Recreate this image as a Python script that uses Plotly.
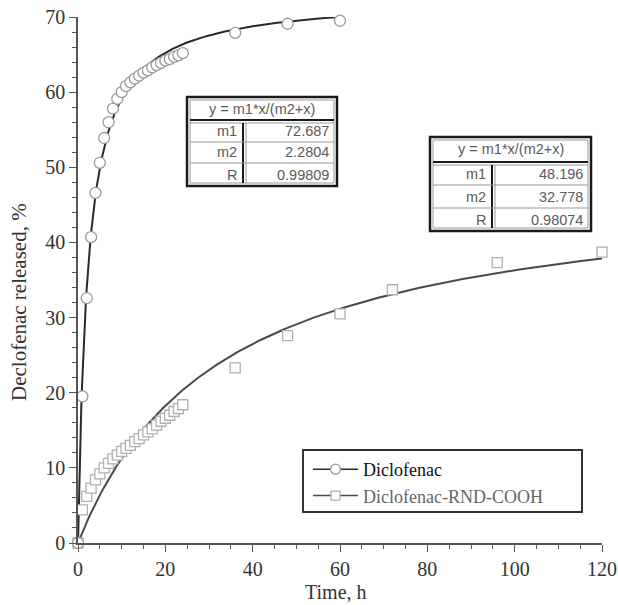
import numpy as np
import plotly.graph_objects as go

# ---- data ----
t_dic = [0, 1, 2, 3, 4, 5, 6, 7, 8, 9, 10, 11, 12, 13, 14, 15, 16, 17, 18, 19, 20, 21, 22, 23, 24, 36, 48, 60]
y_dic = [0, 19.5, 32.6, 40.7, 46.6, 50.6, 53.9, 56.0, 57.8, 59.1, 60.0, 60.8, 61.3, 61.8, 62.2, 62.6,
         62.9, 63.3, 63.6, 63.9, 64.2, 64.4, 64.7, 64.9, 65.2, 67.9, 69.1, 69.5]

t_rnd = [0, 1, 2, 3, 4, 5, 6, 7, 8, 9, 10, 11, 12, 13, 14, 15, 16, 17, 18, 19, 20, 21, 22, 23, 24,
         36, 48, 60, 72, 96, 120]
y_rnd = [0, 4.4, 6.2, 7.3, 8.4, 9.2, 10.0, 10.6, 11.2, 11.7, 12.2, 12.6, 13.0, 13.5, 13.9, 14.4,
         14.8, 15.2, 15.7, 16.2, 16.6, 17.0, 17.5, 17.9, 18.4, 23.3, 27.6, 30.5, 33.7, 37.3, 38.7]

# fit parameters shown in the tables (y = m1*x/(m2+x))
fit_dic = {"m1": 72.687, "m2": 2.2804, "R": 0.99809}
fit_rnd = {"m1": 48.196, "m2": 32.778, "R": 0.98074}
fit_dic_tmax = 60
fit_rnd_tmax = 120

x_ticks = [0, 20, 40, 60, 80, 100, 120]
y_ticks = [0, 10, 20, 30, 40, 50, 60, 70]

# ---- figure geometry helpers (pixel -> paper) ----
W, H = 618, 605
L, R, T, B = 78, 16, 17, 62
PW, PH = W - L - R, H - T - B


def px(p):
    return (p - L) / PW


def py(p):
    return (H - B - p) / PH


SERIF = "Liberation Serif, Times New Roman, serif"
SANS = "Liberation Sans, Arial, sans-serif"

fig = go.Figure()

# fitted curves from table parameters
xf1 = np.linspace(0, fit_dic_tmax, 400)
yf1 = fit_dic["m1"] * xf1 / (fit_dic["m2"] + xf1)
xf2 = np.linspace(0, fit_rnd_tmax, 400)
yf2 = fit_rnd["m1"] * xf2 / (fit_rnd["m2"] + xf2)

fig.add_trace(go.Scatter(x=xf1, y=yf1, mode="lines", line=dict(color="#2a2a2a", width=2),
                         showlegend=False, hoverinfo="skip", cliponaxis=False))
fig.add_trace(go.Scatter(x=xf2, y=yf2, mode="lines", line=dict(color="#4a4a4a", width=2),
                         showlegend=False, hoverinfo="skip", cliponaxis=False))

fig.add_trace(go.Scatter(x=t_rnd, y=y_rnd, mode="markers",
                         marker=dict(symbol="square", size=10, color="white",
                                     line=dict(color="#b0b0b0", width=1.3)),
                         showlegend=False, cliponaxis=False))
fig.add_trace(go.Scatter(x=t_dic, y=y_dic, mode="markers",
                         marker=dict(symbol="circle", size=11, color="white",
                                     line=dict(color="#9a9a9a", width=1.3)),
                         showlegend=False, cliponaxis=False))

# legend-only traces
fig.add_trace(go.Scatter(x=[None], y=[None], mode="lines+markers",
                         name="<span style='color:#111'>Diclofenac</span>",
                         line=dict(color="#2a2a2a", width=1.5),
                         marker=dict(symbol="circle", size=10, color="white",
                                     line=dict(color="#9a9a9a", width=1.3))))
fig.add_trace(go.Scatter(x=[None], y=[None], mode="lines+markers",
                         name="<span style='color:#666'>Diclofenac-RND-COOH</span>",
                         line=dict(color="#4a4a4a", width=1.5),
                         marker=dict(symbol="square", size=9, color="white",
                                     line=dict(color="#b0b0b0", width=1.3))))

shapes = []
annotations = []
TFONT = dict(family=SANS, size=14.5, color="#5a5a5a")


def add_table(x0, y0, x1, y1, colx, header_y, row_ys, params):
    shapes.append(dict(type="rect", xref="paper", yref="paper",
                       x0=px(x0), x1=px(x1), y0=py(y0), y1=py(y1),
                       line=dict(color="#1a1a1a", width=2.5), fillcolor="white", layer="above"))
    shapes.append(dict(type="rect", xref="paper", yref="paper",
                       x0=px(x0 + 3), x1=px(x1 - 3), y0=py(y0 + 3), y1=py(y1 - 3),
                       line=dict(color="#999999", width=1), layer="above"))
    shapes.append(dict(type="line", xref="paper", yref="paper",
                       x0=px(x0 + 3), x1=px(x1 - 3), y0=py(header_y), y1=py(header_y),
                       line=dict(color="#1a1a1a", width=2), layer="above"))
    shapes.append(dict(type="line", xref="paper", yref="paper",
                       x0=px(x0 + 3), x1=px(x1 - 3), y0=py(header_y + 3), y1=py(header_y + 3),
                       line=dict(color="#999999", width=1), layer="above"))
    shapes.append(dict(type="line", xref="paper", yref="paper",
                       x0=px(colx), x1=px(colx), y0=py(header_y + 3), y1=py(y1 - 3),
                       line=dict(color="#1a1a1a", width=2), layer="above"))
    shapes.append(dict(type="line", xref="paper", yref="paper",
                       x0=px(colx + 3), x1=px(colx + 3), y0=py(header_y + 3), y1=py(y1 - 3),
                       line=dict(color="#999999", width=1), layer="above"))
    for ry in row_ys[1:]:
        shapes.append(dict(type="line", xref="paper", yref="paper",
                           x0=px(x0 + 3), x1=px(x1 - 3), y0=py(ry), y1=py(ry),
                           line=dict(color="#999999", width=1), layer="above"))
    annotations.append(dict(xref="paper", yref="paper", x=px((x0 + x1) / 2), y=py((y0 + header_y) / 2),
                            text="y = m1*x/(m2+x)", showarrow=False, xanchor="center", yanchor="middle",
                            font=TFONT))
    bounds = row_ys + [y1]
    for i, key in enumerate(["m1", "m2", "R"]):
        yc = (bounds[i] + bounds[i + 1]) / 2
        annotations.append(dict(xref="paper", yref="paper", x=px(colx - 4), y=py(yc),
                                text=key, showarrow=False, xanchor="right", yanchor="middle",
                                font=TFONT))
        annotations.append(dict(xref="paper", yref="paper", x=px(x1 - 6), y=py(yc),
                                text=str(params[key]), showarrow=False, xanchor="right", yanchor="middle",
                                font=TFONT))


add_table(187, 97, 337, 186, 243, 120, [120, 142, 163], fit_dic)
add_table(430, 137, 591, 231, 492, 162, [162, 185, 208], fit_rnd)

# legend frame
shapes.append(dict(type="rect", xref="paper", yref="paper",
                   x0=px(303), x1=px(582), y0=py(450), y1=py(512),
                   line=dict(color="#333333", width=2), fillcolor="rgba(0,0,0,0)", layer="below"))

# axis titles
annotations.append(dict(xref="paper", yref="paper", x=px(336), y=py(592), text="Time, h",
                        showarrow=False, xanchor="center", yanchor="middle",
                        font=dict(family=SERIF, size=20, color="#333333")))
annotations.append(dict(xref="paper", yref="paper", x=px(19), y=py(302), text="Declofenac released, %",
                        showarrow=False, xanchor="center", yanchor="middle", textangle=-90,
                        font=dict(family=SERIF, size=21, color="#333333")))

fig.update_layout(
    width=W, height=H,
    margin=dict(l=L, r=R, t=T, b=B, autoexpand=False),
    paper_bgcolor="white", plot_bgcolor="white",
    shapes=shapes, annotations=annotations,
    legend=dict(x=px(308), y=py(451), xanchor="left", yanchor="top",
                bgcolor="rgba(0,0,0,0)", borderwidth=0,
                font=dict(family=SERIF, size=18, color="#666666"),
                itemwidth=45, tracegroupgap=0),
    xaxis=dict(range=[0, 120], tickvals=x_ticks, showgrid=False, zeroline=False,
               showline=True, linecolor="#555555", linewidth=1.5,
               ticks="outside", ticklen=7, tickwidth=1.3, tickcolor="#555555",
               minor=dict(dtick=5, ticks="outside", ticklen=4, tickwidth=1.2, tickcolor="#555555"),
               tickfont=dict(family=SERIF, size=20, color="#333333"), automargin=False),
    yaxis=dict(range=[0, 70], tickvals=y_ticks, showgrid=False, zeroline=False,
               showline=True, linecolor="#555555", linewidth=1.5,
               ticks="outside", ticklen=7, tickwidth=1.3, tickcolor="#555555",
               minor=dict(dtick=2, ticks="outside", ticklen=4, tickwidth=1.2, tickcolor="#555555"),
               tickfont=dict(family=SERIF, size=20, color="#333333"), automargin=False),
)

fig.write_html("out.html", config={"displayModeBar": False},
               post_script="document.body.style.margin='0px';")
